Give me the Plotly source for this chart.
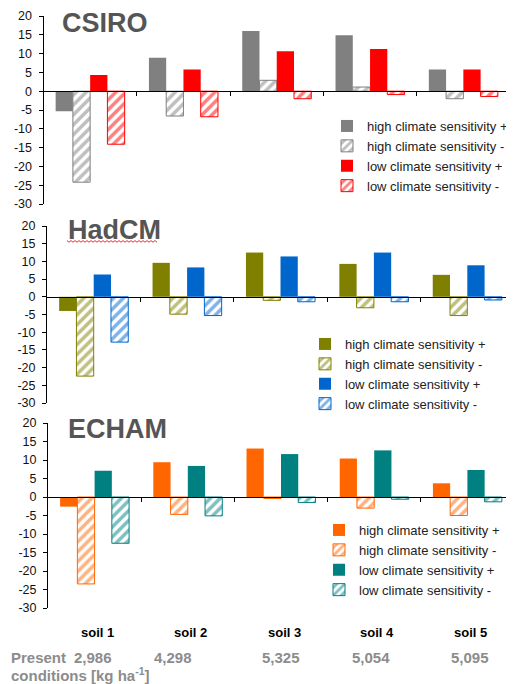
import plotly.graph_objects as go

soils = ["soil 1", "soil 2", "soil 3", "soil 4", "soil 5"]
present = ["2,986", "4,298", "5,325", "5,054", "5,095"]
series_names = ["high climate sensitivity +", "high climate sensitivity -",
                "low climate sensitivity +", "low climate sensitivity -"]
models = ["CSIRO", "HadCM", "ECHAM"]

csiro_high_plus = [-5.3, 8.9, 16.0, 14.9, 5.8]
csiro_high_minus = [-24.2, -6.6, 2.9, 1.1, -2.0]
csiro_low_plus = [4.3, 5.8, 10.6, 11.2, 5.8]
csiro_low_minus = [-14.1, -6.8, -2.0, -0.9, -1.4]

hadcm_high_plus = [-4.0, 9.6, 12.5, 9.3, 6.2]
hadcm_high_minus = [-22.4, -4.9, -1.0, -3.1, -5.3]
hadcm_low_plus = [6.3, 8.3, 11.4, 12.5, 8.9]
hadcm_low_minus = [-12.8, -5.3, -1.4, -1.4, -0.9]

echam_high_plus = [-2.6, 9.4, 13.1, 10.4, 3.7]
echam_high_minus = [-23.5, -4.7, -0.4, -3.0, -5.0]
echam_low_plus = [7.1, 8.4, 11.6, 12.6, 7.3]
echam_low_minus = [-12.5, -5.1, -1.5, -0.6, -1.3]

y_ticks = [20, 15, 10, 5, 0, -5, -10, -15, -20, -25, -30]

# ---- styling / layout ----
# the page body has an 8px margin, so the figure is shrunk by it and all
# pixel positions (taken from the 514x684 window) are shifted by OFF
OFF = 8
W, H = 514 - OFF, 684 - OFF
FONT = "Liberation Sans, Arial, sans-serif"
panel_data = [
    [csiro_high_plus, csiro_high_minus, csiro_low_plus, csiro_low_minus],
    [hadcm_high_plus, hadcm_high_minus, hadcm_low_plus, hadcm_low_minus],
    [echam_high_plus, echam_high_minus, echam_low_plus, echam_low_minus],
]
panel_colors = [("#808080", "#ff0000"), ("#808000", "#0066cc"), ("#ff6600", "#008080")]
# window pixel boxes: (left, right, top, bottom)
boxes = [(43.5, 510, 16, 204), (47, 514, 226, 403), (48, 514, 423, 608)]
legend_pos = [(327, 111), (305, 329), (319, 515)]
title_pos = [(60, 23), (66, 230), (66, 429)]

def px_x(p):
    return (p - OFF) / W

def px_y(p):
    return 1 - (p - OFF) / H

fig = go.Figure()
x_idx = list(range(len(soils)))

for i, (model, data, cols) in enumerate(zip(models, panel_data, panel_colors)):
    sfx = "" if i == 0 else str(i + 1)
    leg = "legend" + sfx
    for j, (name, vals) in enumerate(zip(series_names, data)):
        col = cols[0] if j < 2 else cols[1]
        hatched = j % 2 == 1
        if hatched:
            marker = dict(color="white", line=dict(color=col, width=1),
                          pattern=dict(shape="/", fgcolor=col, bgcolor="white",
                                       size=7, solidity=0.5))
        else:
            marker = dict(color=col, line=dict(color=col, width=0))
        fig.add_trace(go.Bar(x=x_idx, y=vals, name=name, marker=marker,
                             xaxis="x" + sfx, yaxis="y" + sfx, legend=leg,
                             offsetgroup=str(j)))
    l, r, t, b = boxes[i]
    d0, d1 = px_y(b), px_y(t)
    zero_pos = d0 + (0 - (-30)) / 50 * (d1 - d0)
    fig.layout["xaxis" + sfx] = dict(
        domain=[px_x(l), min(1, px_x(r))], range=[-0.5, 4.5], anchor="free",
        position=zero_pos, showline=True, linecolor="black", linewidth=1,
        tickvals=[0.5, 1.5, 2.5, 3.5], ticks="outside", ticklen=4,
        tickcolor="black", showticklabels=False, showgrid=False, zeroline=False,
        automargin=False, fixedrange=True)
    fig.layout["yaxis" + sfx] = dict(
        domain=[d0, d1], range=[-30, 20], anchor="x" + sfx,
        tickvals=y_ticks, ticktext=[str(v) for v in y_ticks],
        showline=True, linecolor="black", linewidth=1, ticks="outside",
        ticklen=4, tickcolor="black", showgrid=False, zeroline=False,
        automargin=False, fixedrange=True, ticklabelstandoff=4,
        tickfont=dict(family=FONT, size=12.5, color="#111111"))
    lx, ly = legend_pos[i]
    fig.layout[leg] = dict(x=px_x(lx), y=px_y(ly), xanchor="left", yanchor="top",
                           bgcolor="rgba(0,0,0,0)", traceorder="normal",
                           font=dict(family=FONT, size=13, color="#222222"),
                           itemwidth=30, tracegroupgap=0)
    tx, ty = title_pos[i]
    fig.add_annotation(text="<b>%s</b>" % model, xref="paper", yref="paper",
                       x=px_x(tx), y=px_y(ty), xanchor="left", yanchor="middle",
                       showarrow=False, font=dict(family=FONT, size=27, color="#555555"))

# spell-check underline under HadCM
pts = []
xx = 67.0
k = 0
while xx <= 158:
    pts.append((px_x(xx), px_y(241 + (1.2 if k % 2 else -0.4))))
    xx += 2
    k += 1
path = "M " + " L ".join("%.5f,%.5f" % p for p in pts)
fig.add_shape(type="path", xref="paper", yref="paper", path=path,
              line=dict(color="#e03030", width=1))

# bottom labels
for k, s in enumerate(soils):
    fig.add_annotation(text="<b>%s</b>" % s, xref="x3", yref="paper", x=k, y=px_y(632),
                       xshift=3, xanchor="center", yanchor="middle", showarrow=False,
                       font=dict(family=FONT, size=13, color="black"))
val_shift = [-2, -15, 0, -3, 3]
for k, v in enumerate(present):
    fig.add_annotation(text="<b>%s</b>" % v, xref="x3", yref="paper", x=k, y=px_y(657),
                       xshift=val_shift[k], xanchor="center", yanchor="middle",
                       showarrow=False, font=dict(family=FONT, size=15, color="#8c8c8c"))
fig.add_annotation(text="<b>Present</b>", xref="paper", yref="paper", x=px_x(9), y=px_y(657),
                   xanchor="left", yanchor="middle", showarrow=False,
                   font=dict(family=FONT, size=15, color="#8c8c8c"))
fig.add_annotation(text="<b>conditions [kg ha<sup>-1</sup>]</b>", xref="paper", yref="paper",
                   x=px_x(9), y=px_y(674), xanchor="left", yanchor="middle", showarrow=False,
                   font=dict(family=FONT, size=15, color="#8c8c8c"))

fig.update_layout(width=W, height=H, margin=dict(l=0, r=0, t=0, b=0, autoexpand=False),
                  paper_bgcolor="white", plot_bgcolor="white",
                  barmode="group", bargap=0.26, bargroupgap=0,
                  font=dict(family=FONT, color="#222222"), showlegend=True)

fig.write_html("out.html")
